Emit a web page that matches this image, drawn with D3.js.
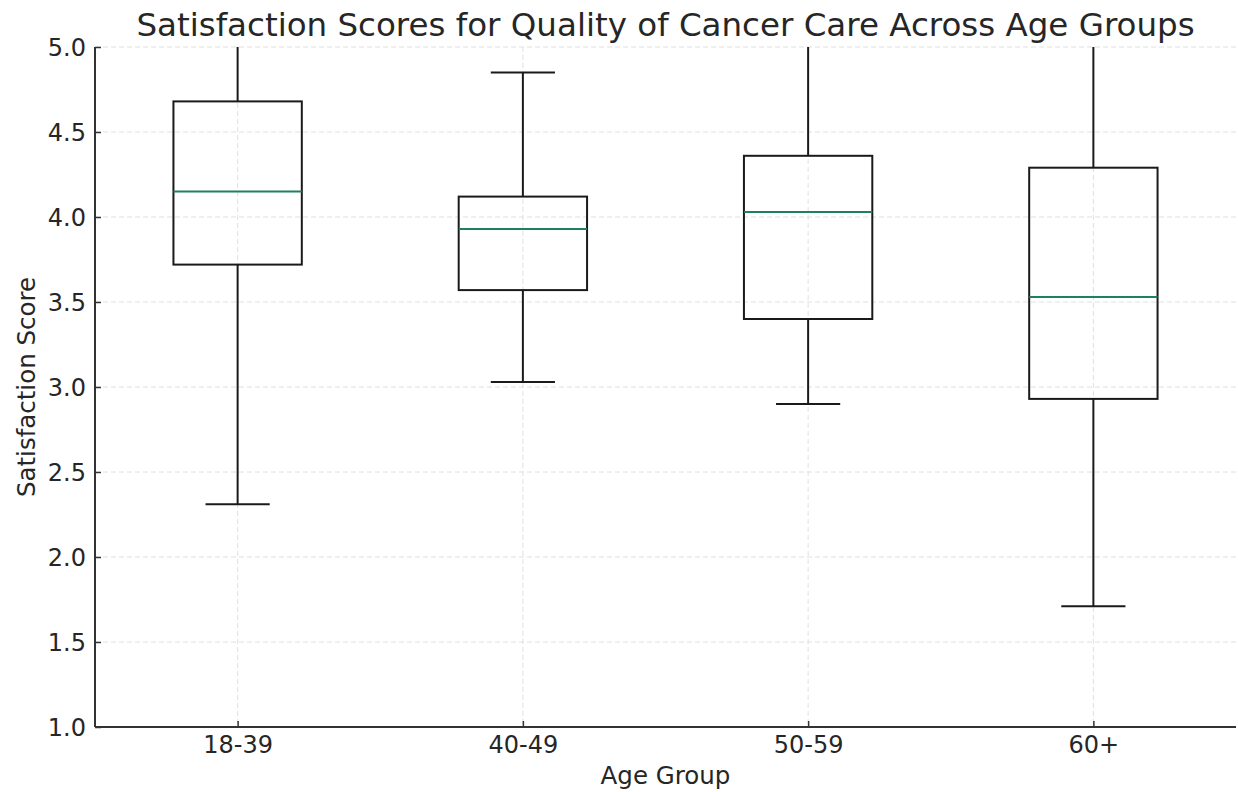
<!DOCTYPE html>
<html>
<head>
<meta charset="utf-8">
<script src="https://cdn.jsdelivr.net/npm/d3@7"></script>
<style>
  body { margin: 0; background: #fff; }
  text { font-family: "DejaVu Sans", sans-serif; fill: #262626; }
</style>
</head>
<body>
<div id="chart"></div>
<script>
// age groups and their box statistics
const groups = ["18-39", "40-49", "50-59", "60+"];
const whiskerLow = [2.31, 3.03, 2.90, 1.71];
const q1 = [3.72, 3.57, 3.40, 2.93];
const median = [4.15, 3.93, 4.03, 3.53];
const q3 = [4.68, 4.12, 4.36, 4.29];
const whiskerHigh = [5.10, 4.85, 5.10, 5.10];
const yTicks = [1.0, 1.5, 2.0, 2.5, 3.0, 3.5, 4.0, 4.5, 5.0];

const width = 1238, height = 792;
const margin = {top: 47, right: 2, bottom: 65, left: 95};
const iw = width - margin.left - margin.right;
const ih = height - margin.top - margin.bottom;

const svg = d3.select('#chart').append('svg')
  .attr('width', width)
  .attr('height', height);

const x = d3.scaleLinear().domain([0.5, 4.5]).range([0, iw]);
const y = d3.scaleLinear().domain([1, 5]).range([ih, 0]);
const boxW = x(1.45) - x(1);

const g = svg.append('g')
  .attr('transform', `translate(${margin.left},${margin.top})`);

svg.append('defs').append('clipPath').attr('id', 'plot-clip')
  .append('rect').attr('width', iw).attr('height', ih);

// grid
g.append('g').selectAll('line').data(yTicks).join('line')
  .attr('x1', 0).attr('x2', iw)
  .attr('y1', d => y(d)).attr('y2', d => y(d))
  .attr('stroke', '#e0e0e0').attr('stroke-dasharray', '5,3');
g.append('g').selectAll('line').data(groups).join('line')
  .attr('x1', (d, i) => x(i + 1)).attr('x2', (d, i) => x(i + 1))
  .attr('y1', 0).attr('y2', ih)
  .attr('stroke', '#e0e0e0').attr('stroke-dasharray', '5,3');

// boxes
const boxes = g.append('g').attr('clip-path', 'url(#plot-clip)')
  .selectAll('g').data(groups).join('g')
  .attr('transform', (d, i) => `translate(${x(i + 1)},0)`);

boxes.append('line')
  .attr('y1', (d, i) => y(q3[i])).attr('y2', (d, i) => y(whiskerHigh[i]))
  .attr('stroke', '#1a1a1a').attr('stroke-width', 2);
boxes.append('line')
  .attr('y1', (d, i) => y(q1[i])).attr('y2', (d, i) => y(whiskerLow[i]))
  .attr('stroke', '#1a1a1a').attr('stroke-width', 2);
boxes.append('line')
  .attr('x1', -boxW / 4).attr('x2', boxW / 4)
  .attr('y1', (d, i) => y(whiskerHigh[i])).attr('y2', (d, i) => y(whiskerHigh[i]))
  .attr('stroke', '#1a1a1a').attr('stroke-width', 2);
boxes.append('line')
  .attr('x1', -boxW / 4).attr('x2', boxW / 4)
  .attr('y1', (d, i) => y(whiskerLow[i])).attr('y2', (d, i) => y(whiskerLow[i]))
  .attr('stroke', '#1a1a1a').attr('stroke-width', 2);
boxes.append('rect')
  .attr('x', -boxW / 2).attr('width', boxW)
  .attr('y', (d, i) => y(q3[i]))
  .attr('height', (d, i) => y(q1[i]) - y(q3[i]))
  .attr('fill', 'none').attr('stroke', '#1a1a1a').attr('stroke-width', 2);
boxes.append('line')
  .attr('x1', -boxW / 2).attr('x2', boxW / 2)
  .attr('y1', (d, i) => y(median[i])).attr('y2', (d, i) => y(median[i]))
  .attr('stroke', '#1f7f5f').attr('stroke-width', 2);

// axes, ticks point inward
const yAxis = g.append('g')
  .call(d3.axisLeft(y).tickValues(yTicks).tickFormat(d3.format('.1f')).tickSize(-6).tickPadding(15));
const xAxis = g.append('g').attr('transform', `translate(0,${ih})`)
  .call(d3.axisBottom(x).tickValues([1, 2, 3, 4]).tickFormat(d => groups[d - 1]).tickSize(-6).tickPadding(14));
[yAxis, xAxis].forEach(a => {
  a.select('.domain').attr('stroke', '#333').attr('stroke-width', 2);
  a.selectAll('.tick line').attr('stroke', '#333').attr('stroke-width', 1.5);
  a.selectAll('.tick text').attr('font-size', 24).attr('fill', '#262626')
    .style('font-family', '"DejaVu Sans", sans-serif');
});
xAxis.select('.domain').attr('d', `M0,0H${iw}`);
yAxis.select('.domain').attr('d', `M0,${ih}V0`);
xAxis.selectAll('.tick text').attr('y', 26).attr('dy', 0);
yAxis.selectAll('.tick text').attr('x', -9).attr('dy', '0.36em');

// titles
svg.append('text')
  .attr('x', margin.left + iw / 2).attr('y', 36)
  .attr('text-anchor', 'middle').attr('font-size', 32.5)
  .text('Satisfaction Scores for Quality of Cancer Care Across Age Groups');
svg.append('text')
  .attr('x', margin.left + iw / 2).attr('y', 784)
  .attr('text-anchor', 'middle').attr('font-size', 24.5)
  .text('Age Group');
svg.append('text')
  .attr('transform', `translate(35,${margin.top + ih / 2}) rotate(-90)`)
  .attr('text-anchor', 'middle').attr('font-size', 24.5)
  .text('Satisfaction Score');
</script>
</body>
</html>
